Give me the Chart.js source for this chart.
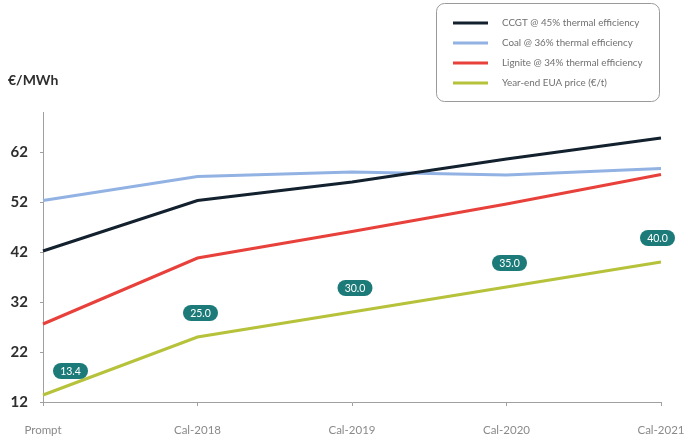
<!DOCTYPE html>
<html>
<head>
<meta charset="utf-8">
<script src="https://cdn.jsdelivr.net/npm/chart.js@4"></script>
<style>
  html, body { margin: 0; padding: 0; background: #fff; }
  #wrap { width: 684px; height: 440px; position: relative; }
</style>
</head>
<body>
<div id="wrap"><canvas id="fuelChart" width="684" height="440"></canvas></div>
<script>
// Categories and series
const periods = ['Prompt', 'Cal-2018', 'Cal-2019', 'Cal-2020', 'Cal-2021'];
const ccgtCost = [42.2, 52.3, 56.0, 60.6, 64.8];
const coalCost = [52.3, 57.1, 58.0, 57.4, 58.7];
const ligniteCost = [27.6, 40.8, 46.1, 51.6, 57.5];
const euaPrice = [13.4, 25.0, 30.0, 35.0, 40.0];
const yTicks = [12, 22, 32, 42, 52, 62];

const FONT = 'Lato, "Noto Sans", sans-serif';

// Rounded box legend in the top right corner + y unit label
const boxLegend = {
	id: 'boxLegend',
	afterDraw(chart) {
		const ctx = chart.ctx;
		const x0 = 436, y0 = 3, w = 223, h = 98;
		ctx.save();
		ctx.strokeStyle = '#9a9a9a';
		ctx.lineWidth = 1;
		ctx.beginPath();
		ctx.roundRect(x0 + 0.5, y0 + 0.5, w, h, 8);
		ctx.stroke();
		ctx.font = '9.8px ' + FONT;
		ctx.textBaseline = 'middle';
		chart.data.datasets.forEach((ds, i) => {
			const y = 23 + i * 20;
			ctx.strokeStyle = ds.borderColor;
			ctx.lineWidth = 3;
			ctx.beginPath();
			ctx.moveTo(453, y);
			ctx.lineTo(488, y);
			ctx.stroke();
			ctx.fillStyle = '#707070';
			ctx.fillText(ds.label, 502, y);
		});
		// unit label
		ctx.font = 'bold 14px ' + FONT;
		ctx.fillStyle = '#2e2e2e';
		ctx.fillText('€/MWh', 8, 80);
		ctx.restore();
	}
};

// Teal pills with the EUA value above each point
const valuePills = {
	id: 'valuePills',
	afterDatasetsDraw(chart) {
		const ctx = chart.ctx;
		const area = chart.chartArea;
		const meta = chart.getDatasetMeta(3);
		ctx.save();
		ctx.font = '10.5px ' + FONT;
		ctx.textAlign = 'center';
		ctx.textBaseline = 'middle';
		meta.data.forEach((pt, i) => {
			const w = 35, h = 16;
			let cx = pt.x + 3;
			cx = Math.max(cx, area.left + 10 + w / 2);
			cx = Math.min(cx, area.right + 14 - w / 2);
			const cy = pt.y - 24;
			ctx.fillStyle = '#1c7b79';
			ctx.beginPath();
			ctx.roundRect(cx - w / 2, cy - h / 2, w, h, h / 2);
			ctx.fill();
			ctx.fillStyle = '#ffffff';
			ctx.fillText(euaPrice[i].toFixed(1), cx, cy + 0.5);
		});
		ctx.restore();
	}
};

new Chart(document.getElementById('fuelChart'), {
	type: 'line',
	data: {
		labels: periods,
		datasets: [
			{ label: 'CCGT @ 45% thermal efficiency', data: ccgtCost, borderColor: '#13212f', borderWidth: 3 },
			{ label: 'Coal @ 36% thermal efficiency', data: coalCost, borderColor: '#92b2e4', borderWidth: 3 },
			{ label: 'Lignite @ 34% thermal efficiency', data: ligniteCost, borderColor: '#e8413b', borderWidth: 3 },
			{ label: 'Year-end EUA price (€/t)', data: euaPrice, borderColor: '#b6c23a', borderWidth: 3 }
		]
	},
	options: {
		responsive: false,
		animation: false,
		devicePixelRatio: 1,
		layout: { padding: { left: 0, right: 23, top: 112, bottom: 0 } },
		elements: { point: { radius: 0 }, line: { tension: 0 } },
		plugins: { legend: { display: false }, tooltip: { enabled: false } },
		scales: {
			x: {
				offset: false,
				grid: { display: true, drawOnChartArea: false, color: '#a0a0a0', tickLength: 4 },
				border: { color: '#a0a0a0' },
				ticks: { color: '#8a8a8a', font: { family: FONT, size: 11.5 }, padding: 17, maxRotation: 0 },
				afterFit: s => { s.height = 38; s.paddingLeft = 0; s.paddingRight = 0; }
			},
			y: {
				min: 12,
				max: 70,
				grid: { display: true, drawOnChartArea: false, color: '#a0a0a0', tickLength: 3 },
				border: { color: '#a0a0a0' },
				ticks: { color: '#2e2e2e', font: { family: FONT, size: 15, weight: 'bold' }, padding: 12 },
				afterBuildTicks: s => { s.ticks = yTicks.map(v => ({ value: v })); },
				afterFit: s => { s.width = 43; }
			}
		}
	},
	plugins: [boxLegend, valuePills]
});
</script>
</body>
</html>
